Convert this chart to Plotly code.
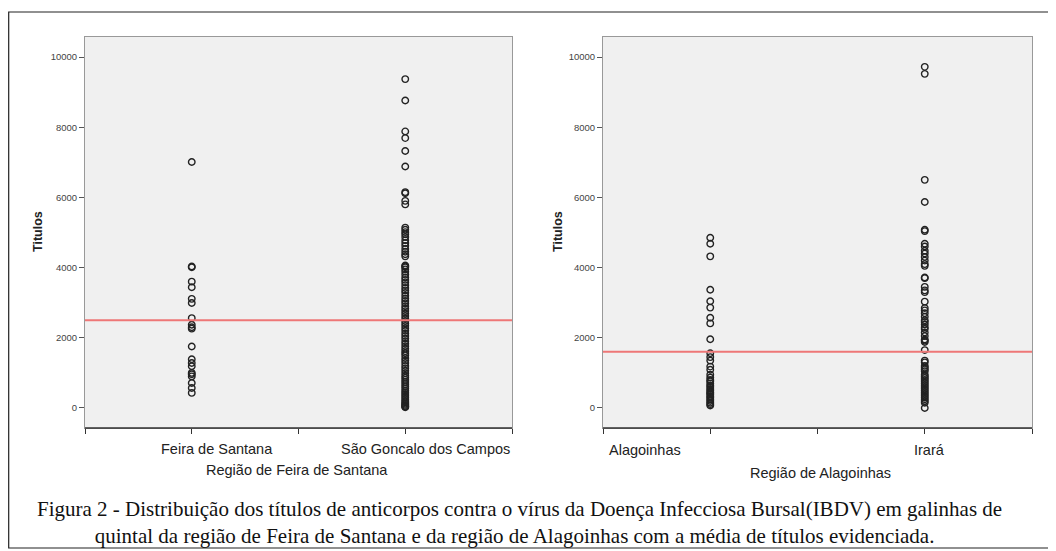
import plotly.graph_objects as go

# ---------------- data ----------------
feira_santana = [7010, 4030, 4010, 3600, 3440, 3110, 2990, 2560, 2370, 2300, 2260,
                 1750, 1390, 1280, 1190, 1000, 960, 900, 710, 570, 430]
sao_goncalo = [9370, 8760, 7880, 7690, 7320, 6880, 6150, 6120, 5900, 5800,
               5140, 5080, 5010, 4950, 4870, 4780, 4700, 4620, 4530, 4450, 4380, 4320,
               4060, 4040, 4010, 3950, 3880, 3800, 3720, 3650, 3580, 3500, 3420, 3350,
               3280, 3200, 3120, 3050, 2980, 2900, 2830, 2760, 2690, 2620, 2550, 2480,
               2410, 2340, 2270, 2200, 2120, 2050, 1980, 1900, 1830, 1760, 1690, 1620,
               1560, 1500, 1420, 1350, 1280, 1200, 1130, 1060, 990, 920, 860, 800, 740,
               680, 620, 560, 500, 450, 400, 350, 300, 250, 200, 160, 120, 90, 60, 40, 20]
alagoinhas = [4850, 4680, 4320, 3370, 3040, 2860, 2570, 2410, 1960, 1560, 1450, 1350,
              1180, 1090, 950, 870, 800, 760, 700, 640, 600, 540, 500, 450, 420, 380,
              330, 290, 240, 200, 150, 110, 70]
irara = [9720, 9520, 6500, 5870, 5080, 5040, 4680, 4600, 4480, 4400, 4300, 4200, 4100,
         4050, 3720, 3700, 3450, 3350, 3300, 3030, 2850, 2780, 2700, 2600, 2500, 2450,
         2380, 2300, 2250, 2150, 2050, 1950, 1920, 1880, 1650, 1350, 1300, 1200, 1150,
         1100, 1050, 950, 900, 850, 800, 750, 700, 650, 600, 550, 500, 450, 400, 350,
         300, 250, 200, 150, 0]

left_categories = ["Feira de Santana", "São Goncalo dos Campos"]
right_categories = ["Alagoinhas", "Irará"]
left_positions = [1, 3]
right_positions = [1, 3]
left_label_pos = [1.24, 3.19]
right_label_pos = [0.39, 3.04]
mean_left = 2500
mean_right = 1600

y_ticks = [0, 2000, 4000, 6000, 8000, 10000]
y_title = "Titulos"
x_title_left = "Região de Feira de Santana"
x_title_right = "Região de Alagoinhas"
caption_1 = "Figura 2 - Distribuição dos títulos de anticorpos contra o vírus da Doença Infecciosa Bursal(IBDV) em galinhas de"
caption_2 = "quintal da região de Feira de Santana e da região de Alagoinhas com a média de títulos evidenciada."

OFF = 8  # page body margin offset
W, H = 1056 - OFF, 551 - OFF
def px(x):
    return (x - OFF) / W
def py(y):
    return 1 - (y - OFF) / H

fig = go.Figure()

marker = dict(symbol="circle-open", size=6.5, color="#222222", line=dict(width=1.4, color="#222222"))

groups = [
    ("x", "y", left_positions[0], feira_santana),
    ("x", "y", left_positions[1], sao_goncalo),
    ("x2", "y2", right_positions[0], alagoinhas),
    ("x2", "y2", right_positions[1], irara),
]
for xa, ya, pos, vals in groups:
    fig.add_trace(go.Scatter(x=[pos] * len(vals), y=vals, mode="markers", marker=marker,
                             xaxis=xa, yaxis=ya, showlegend=False, cliponaxis=False))

# mean lines
fig.add_trace(go.Scatter(x=[0, 4], y=[mean_left, mean_left], mode="lines",
                         line=dict(color="#EE7777", width=2), xaxis="x", yaxis="y", showlegend=False))
fig.add_trace(go.Scatter(x=[0, 4], y=[mean_right, mean_right], mode="lines",
                         line=dict(color="#EE7777", width=2), xaxis="x2", yaxis="y2", showlegend=False))

yrange = [-570, 10570]
common_y = dict(range=yrange, tickvals=y_ticks, tickformat="d", ticks="outside", ticklen=5,
                tickcolor="#555555", tickwidth=1, showgrid=False, zeroline=False,
                showline=True, linecolor="#999999", linewidth=1, mirror=True,
                tickfont=dict(family="Arial, Liberation Sans", size=9.5, color="#444444"))
common_x = dict(range=[0, 4], tickvals=[0, 1, 2, 3, 4], showticklabels=False,
                ticks="outside", ticklen=5, tickcolor="#333333", tickwidth=1.2,
                showgrid=False, zeroline=False, showline=True, linecolor="#999999",
                linewidth=1, mirror=True)

dom_y = [py(428), py(37)]
fig.update_layout(
    width=W, height=H,
    margin=dict(l=0, r=0, t=0, b=0),
    paper_bgcolor="white",
    plot_bgcolor="#F0F0F0",
    xaxis=dict(domain=[px(85), px(512)], anchor="y", **common_x),
    yaxis=dict(domain=dom_y, anchor="x", **common_y),
    xaxis2=dict(domain=[px(603), px(1032)], anchor="y2", **common_x),
    yaxis2=dict(domain=dom_y, anchor="x2", **common_y),
)

# darker bottom axis lines
for x0, x1 in [(85, 512), (603, 1032)]:
    fig.add_shape(type="line", xref="paper", yref="paper", x0=px(x0), x1=px(x1),
                  y0=py(428), y1=py(428), line=dict(color="#333333", width=1.5))

# outer frame
fig.add_shape(type="rect", xref="paper", yref="paper", x0=px(8.7), x1=px(1050.5),
              y0=py(548), y1=py(12), line=dict(color="#222222", width=1.2))

ann = []
lbl_font = dict(family="Arial, Liberation Sans", size=14.5, color="#222222")
for cat, xpos in zip(left_categories, left_label_pos):
    ann.append(dict(x=xpos, y=py(449), xref="x", yref="paper", text=cat, showarrow=False,
                    font=lbl_font, xanchor="center", yanchor="middle"))
for cat, xpos in zip(right_categories, right_label_pos):
    ann.append(dict(x=xpos, y=py(450), xref="x2", yref="paper", text=cat, showarrow=False,
                    font=lbl_font, xanchor="center", yanchor="middle"))
title_font = dict(family="Arial, Liberation Sans", size=14.5, color="#222222")
ann.append(dict(x=px(297), y=py(470), xref="paper", yref="paper", text=x_title_left,
                showarrow=False, font=title_font, xanchor="center", yanchor="middle"))
ann.append(dict(x=px(820), y=py(473), xref="paper", yref="paper", text=x_title_right,
                showarrow=False, font=title_font, xanchor="center", yanchor="middle"))
for xc in [38, 558]:
    ann.append(dict(x=px(xc), y=py(232), xref="paper", yref="paper", text="<b>" + y_title + "</b>",
                    showarrow=False, textangle=-90, xanchor="center", yanchor="middle",
                    font=dict(family="Arial, Liberation Sans", size=12.5, color="#222222")))
cap_font = dict(family="Liberation Serif, Times New Roman, serif", size=21, color="#111111")
indent = "&nbsp;" * 11
ann.append(dict(x=px(35), y=py(522), xref="paper", yref="paper",
                text=caption_1 + "<br>" + indent + caption_2, showarrow=False, align="left",
                xanchor="left", yanchor="middle", font=cap_font))
fig.update_layout(annotations=ann)

fig.write_html("out.html")
